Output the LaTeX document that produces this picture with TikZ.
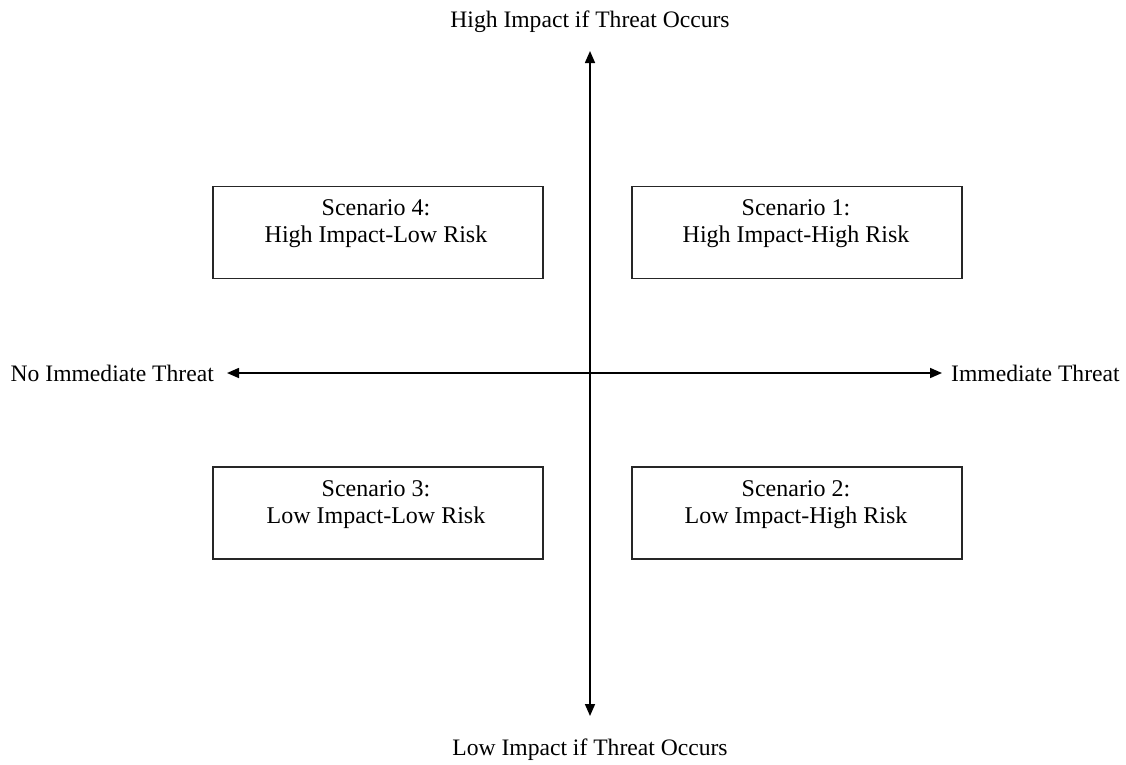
\documentclass[tikz,border=0pt]{standalone}
\usepackage{fontspec}
\setmainfont{Liberation Serif}
\usetikzlibrary{arrows.meta}
\begin{document}
\begin{tikzpicture}[x=1pt,y=-1pt,
  box/.style={draw=black!85,line width=1.8pt,minimum width=330pt,minimum height=92pt,inner sep=0pt},
  boxtext/.style={align=center,font=\fontsize{24}{27}\selectfont,inner sep=0pt},
  axlabel/.style={font=\fontsize{23.6}{27}\selectfont,inner sep=0pt},
  axis/.style={line width=1.6pt,{Triangle[length=12pt,width=10pt]}-{Triangle[length=12pt,width=10pt]}}]
\useasboundingbox (0,0) rectangle (1126,764);
% axis labels
\node[axlabel] (top) at (590,22) {High Impact if Threat Occurs};
\node[axlabel] (bot) at (590,750) {Low Impact if Threat Occurs};
\node[axlabel,anchor=east] (left) at (214,373) {No Immediate Threat};
\node[axlabel,anchor=west] (right) at (951,373) {Immediate Threat};
% axis end points
\coordinate (ytop) at (590,51);
\coordinate (ybot) at (590,716);
\coordinate (xl) at (227,373);
\coordinate (xr) at (942,373);
\draw[axis] (ybot) -- (ytop);
\draw[axis] (xl) -- (xr);
% boxes
\node[box] (s4) at (378,232.5) {};
\node[box] (s1) at (797,232.5) {};
\node[box] (s3) at (378,513) {};
\node[box] (s2) at (797,513) {};
\node[boxtext] (t4) at (376,224) {Scenario 4:\\High Impact-Low Risk};
\node[boxtext] (t1) at (796,224) {Scenario 1:\\High Impact-High Risk};
\node[boxtext] (t3) at (376,505) {Scenario 3:\\Low Impact-Low Risk};
\node[boxtext] (t2) at (796,505) {Scenario 2:\\Low Impact-High Risk};
\end{tikzpicture}
\end{document}
